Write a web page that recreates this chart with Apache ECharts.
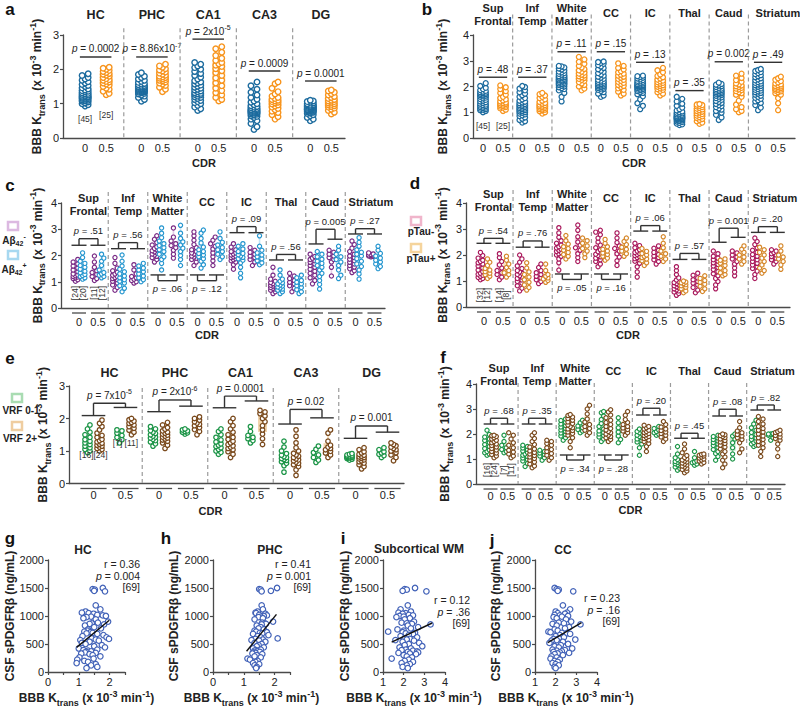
<!DOCTYPE html>
<html>
<head>
<meta charset="utf-8">
<title>BBB Ktrans by CDR</title>
<script src="https://cdn.jsdelivr.net/npm/echarts@6.0.0/dist/echarts.min.js"></script>
<style>
  html, body { margin: 0; padding: 0; background: #fff; }
  #chart { width: 800px; height: 706px; }
</style>
</head>
<body>
<div id="chart"></div>
<script>
// ---------------- data ----------------
const hippoRegions = ['HC', 'PHC', 'CA1', 'CA3', 'DG'];
const cortRegions = [['Sup', 'Frontal'], ['Inf', 'Temp'], ['White', 'Matter'], ['CC'], ['IC'], ['Thal'], ['Caud'], ['Striatum']];

// a: hippocampal Ktrans, CDR 0 / CDR 0.5
const aCdr0 = [
  [0.93,0.97,1.00,1.02,1.05,1.07,1.08,1.10,1.11,1.13,1.14,1.15,1.16,1.18,1.19,1.20,1.21,1.22,1.24,1.25,1.27,1.28,1.30,1.32,1.34,1.36,1.38,1.40,1.43,1.46,1.50,1.53,1.56,1.60,1.64,1.68,1.72,1.76,1.82,1.87],
  [1.07,1.12,1.18,1.22,1.25,1.28,1.30,1.32,1.33,1.34,1.35,1.36,1.37,1.38,1.39,1.40,1.41,1.42,1.43,1.43,1.44,1.45,1.46,1.47,1.48,1.49,1.50,1.51,1.53,1.55,1.57,1.59,1.62,1.65,1.68,1.72,1.76,1.80,1.85,1.90],
  [0.80,0.85,0.90,0.95,1.00,1.03,1.06,1.09,1.12,1.15,1.18,1.20,1.22,1.25,1.27,1.28,1.30,1.32,1.35,1.37,1.40,1.42,1.45,1.48,1.51,1.54,1.57,1.60,1.63,1.67,1.72,1.77,1.82,1.88,1.94,2.00,2.05,2.10,2.15,2.20],
  [0.25,0.33,0.42,0.50,0.55,0.60,0.63,0.65,0.67,0.69,0.70,0.72,0.73,0.74,0.75,0.76,0.77,0.78,0.79,0.80,0.81,0.82,0.83,0.85,0.86,0.88,0.90,0.92,0.94,0.97,1.00,1.04,1.08,1.13,1.18,1.25,1.33,1.42,1.52,1.63],
  [0.50,0.55,0.60,0.65,0.68,0.71,0.73,0.75,0.76,0.77,0.78,0.79,0.79,0.80,0.81,0.82,0.83,0.83,0.84,0.85,0.86,0.87,0.87,0.88,0.89,0.90,0.91,0.92,0.93,0.94,0.95,0.96,0.97,0.98,1.00,1.02,1.04,1.06,1.08,1.10]
];
const aCdr05 = [
  [1.26,1.30,1.36,1.42,1.45,1.50,1.54,1.57,1.60,1.63,1.65,1.68,1.70,1.73,1.76,1.80,1.83,1.86,1.88,1.91,1.94,1.97,2.00,2.03,2.06],
  [1.35,1.42,1.48,1.53,1.57,1.60,1.63,1.66,1.68,1.70,1.72,1.74,1.76,1.78,1.80,1.83,1.86,1.89,1.92,1.95,1.98,2.02,2.06,2.10,2.15],
  [1.08,1.12,1.18,1.25,1.32,1.38,1.45,1.52,1.60,1.68,1.75,1.82,1.90,1.96,2.02,2.08,2.12,2.16,2.20,2.26,2.32,2.40,2.50,2.60,2.66],
  [0.55,0.62,0.68,0.74,0.78,0.82,0.86,0.90,0.93,0.96,0.99,1.02,1.04,1.06,1.08,1.10,1.12,1.15,1.18,1.22,1.28,1.35,1.45,1.58,1.63],
  [0.70,0.75,0.80,0.84,0.87,0.90,0.92,0.94,0.96,0.98,1.00,1.02,1.04,1.06,1.08,1.10,1.12,1.15,1.18,1.21,1.25,1.29,1.33,1.37,1.40]
];
const aPValues = ['0.0002', '8.86x10^-7', '2x10^-5', '0.0009', '0.0001'];
const aCounts = ['[45]', '[25]'];

// b: cortical / subcortical Ktrans, CDR 0 / CDR 0.5
const bCdr0 = [
  [1.00,1.05,1.08,1.10,1.12,1.14,1.16,1.18,1.20,1.22,1.24,1.26,1.28,1.30,1.33,1.36,1.39,1.42,1.45,1.48,1.51,1.54,1.57,1.60,1.62,1.64,1.66,1.68,1.70,1.72,1.74,1.76,1.78,1.80,1.83,1.86,1.90,1.95,2.02,2.13],
  [0.60,0.65,0.70,0.75,0.80,0.85,0.88,0.92,0.95,0.98,1.00,1.03,1.05,1.08,1.10,1.12,1.14,1.16,1.18,1.20,1.22,1.24,1.26,1.28,1.30,1.32,1.35,1.38,1.41,1.45,1.50,1.55,1.60,1.66,1.72,1.78,1.85,1.92,1.98,2.02],
  [1.42,1.60,1.75,1.85,1.90,1.94,1.97,2.00,2.03,2.06,2.08,2.10,2.12,2.14,2.16,2.18,2.20,2.22,2.24,2.25,2.26,2.28,2.30,2.32,2.34,2.36,2.38,2.40,2.43,2.46,2.49,2.52,2.55,2.58,2.62,2.66,2.70,2.74,2.78,2.80],
  [1.60,1.65,1.72,1.78,1.83,1.87,1.90,1.92,1.94,1.96,1.98,2.00,2.02,2.04,2.06,2.08,2.10,2.12,2.14,2.16,2.18,2.20,2.23,2.26,2.30,2.34,2.38,2.42,2.47,2.52,2.57,2.62,2.67,2.72,2.78,2.83,2.88,2.92,2.95,2.97],
  [1.12,1.25,1.35,1.50,1.62,1.70,1.75,1.79,1.82,1.84,1.86,1.88,1.90,1.92,1.94,1.96,1.98,1.99,2.00,2.01,2.02,2.03,2.04,2.05,2.06,2.08,2.10,2.12,2.14,2.16,2.18,2.20,2.22,2.25,2.28,2.31,2.34,2.37,2.40,2.42],
  [0.50,0.53,0.56,0.59,0.62,0.64,0.66,0.68,0.70,0.72,0.73,0.74,0.75,0.76,0.77,0.78,0.79,0.80,0.81,0.82,0.83,0.84,0.85,0.86,0.88,0.90,0.92,0.94,0.96,0.98,1.00,1.03,1.07,1.12,1.18,1.25,1.33,1.42,1.52,1.60],
  [0.70,0.80,0.90,0.98,1.05,1.10,1.15,1.20,1.24,1.28,1.32,1.36,1.40,1.44,1.48,1.52,1.55,1.58,1.61,1.64,1.67,1.70,1.72,1.74,1.76,1.78,1.80,1.82,1.84,1.86,1.88,1.90,1.92,1.95,1.98,2.01,2.04,2.07,2.10,2.15],
  [1.08,1.18,1.28,1.36,1.42,1.47,1.52,1.56,1.60,1.64,1.68,1.72,1.75,1.78,1.81,1.84,1.87,1.90,1.93,1.96,1.99,2.02,2.05,2.08,2.11,2.14,2.17,2.20,2.24,2.28,2.32,2.36,2.40,2.44,2.48,2.52,2.56,2.60,2.64,2.68]
];
const bCdr05 = [
  [1.05,1.10,1.15,1.18,1.20,1.22,1.24,1.26,1.28,1.30,1.32,1.34,1.36,1.38,1.42,1.46,1.50,1.55,1.60,1.68,1.75,1.82,1.90,1.97,2.04],
  [0.95,1.00,1.04,1.08,1.10,1.12,1.14,1.16,1.18,1.20,1.22,1.24,1.26,1.28,1.30,1.33,1.36,1.40,1.45,1.50,1.55,1.60,1.65,1.70,1.75],
  [1.85,1.92,2.00,2.06,2.12,2.17,2.22,2.26,2.30,2.33,2.36,2.40,2.43,2.46,2.50,2.54,2.58,2.63,2.68,2.74,2.80,2.88,2.96,3.05,3.15],
  [1.65,1.72,1.80,1.87,1.93,1.98,2.02,2.06,2.10,2.14,2.18,2.22,2.26,2.30,2.34,2.38,2.42,2.46,2.50,2.55,2.60,2.66,2.72,2.80,2.90],
  [1.65,1.72,1.78,1.83,1.87,1.90,1.93,1.96,1.99,2.02,2.05,2.08,2.11,2.14,2.17,2.20,2.23,2.27,2.31,2.36,2.41,2.47,2.55,2.63,2.72],
  [0.55,0.60,0.65,0.70,0.74,0.78,0.81,0.84,0.87,0.90,0.93,0.96,0.99,1.02,1.05,1.08,1.11,1.14,1.17,1.20,1.23,1.25,1.28,1.30,1.32],
  [1.00,1.05,1.12,1.20,1.30,1.45,1.60,1.68,1.74,1.78,1.82,1.86,1.89,1.92,1.95,1.98,2.01,2.04,2.08,2.12,2.18,2.25,2.33,2.42,2.50],
  [1.08,1.35,1.55,1.68,1.74,1.78,1.81,1.84,1.86,1.88,1.90,1.92,1.94,1.96,1.98,2.00,2.02,2.05,2.08,2.12,2.16,2.21,2.26,2.32,2.38]
];
const bPValues = ['.48', '.37', '.11', '.15', '.13', '.35', '0.002', '.49'];
const bCounts = ['[45]', '[25]'];

// c: amyloid status (Abeta42- / Abeta42+) within CDR 0 and CDR 0.5
const cAbNeg0 = [
  [1.02,1.08,1.12,1.15,1.18,1.20,1.23,1.26,1.30,1.38,1.45,1.52,1.60,1.68,1.75,1.85],
  [0.68,0.78,0.88,0.95,1.02,1.08,1.12,1.16,1.20,1.25,1.30,1.36,1.42,1.52,1.70,1.92],
  [1.75,1.85,1.92,1.97,2.02,2.06,2.10,2.14,2.18,2.22,2.27,2.33,2.40,2.50,2.62,2.75],
  [1.62,1.75,1.85,1.90,1.94,1.98,2.02,2.06,2.10,2.15,2.22,2.30,2.42,2.58,2.75,2.90],
  [1.48,1.65,1.75,1.80,1.84,1.88,1.92,1.95,1.98,2.02,2.06,2.10,2.15,2.22,2.32,2.45],
  [0.55,0.62,0.68,0.72,0.75,0.78,0.81,0.84,0.87,0.90,0.93,0.97,1.02,1.10,1.25,1.55],
  [0.92,1.05,1.15,1.25,1.32,1.40,1.48,1.55,1.62,1.68,1.74,1.80,1.85,1.90,1.96,2.05],
  [1.35,1.42,1.50,1.56,1.62,1.68,1.74,1.80,1.86,1.92,1.98,2.05,2.15,2.28,2.42,2.55]
];
const cAbPos0 = [
  [1.10,1.15,1.20,1.24,1.28,1.34,1.40,1.48,1.55,1.62,1.70,1.78,1.92,2.10],
  [0.62,0.75,0.85,0.95,1.02,1.08,1.15,1.22,1.30,1.38,1.48,1.60,1.78,2.02],
  [1.45,1.70,1.85,1.95,2.05,2.15,2.22,2.30,2.38,2.45,2.55,2.68,2.85,3.05],
  [1.52,1.65,1.78,1.88,1.95,2.02,2.08,2.15,2.22,2.32,2.48,2.65,2.85,2.97],
  [1.15,1.32,1.55,1.72,1.82,1.88,1.93,1.98,2.03,2.08,2.15,2.25,2.35,2.45],
  [0.55,0.62,0.68,0.72,0.76,0.80,0.84,0.88,0.92,0.96,1.02,1.10,1.25,1.45],
  [0.72,0.90,1.05,1.20,1.32,1.45,1.55,1.62,1.70,1.78,1.86,1.95,2.05,2.15],
  [1.10,1.30,1.45,1.58,1.68,1.78,1.88,1.98,2.05,2.12,2.22,2.35,2.50,2.68]
];
const cAbNeg05 = [
  [1.05,1.12,1.20,1.28,1.35,1.42,1.55,1.75,1.98],
  [0.95,1.00,1.05,1.10,1.15,1.20,1.30,1.45,1.65],
  [1.90,2.05,2.20,2.30,2.38,2.45,2.55,2.70,3.05],
  [1.62,1.80,1.95,2.10,2.25,2.35,2.45,2.58,2.70],
  [1.62,1.75,1.85,1.92,1.98,2.05,2.12,2.20,2.30],
  [0.62,0.75,0.85,0.92,0.98,1.05,1.12,1.22,1.32],
  [1.22,1.55,1.75,1.85,1.92,1.98,2.05,2.12,2.20],
  [1.95,1.97,1.98,2.00,2.01,2.02,2.04,2.06,2.10]
];
const cAbPos05 = [
  [1.15,1.20,1.25,1.30,1.35,1.45,1.62,1.78,1.90,2.05],
  [1.00,1.08,1.15,1.22,1.30,1.38,1.45,1.52,1.60,1.70],
  [1.62,1.85,2.00,2.15,2.28,2.40,2.52,2.65,2.85,3.15],
  [1.85,1.95,2.05,2.15,2.22,2.30,2.40,2.50,2.65,2.90],
  [1.65,1.72,1.80,1.88,1.95,2.02,2.10,2.20,2.35,2.75],
  [0.55,0.62,0.70,0.78,0.85,0.92,0.98,1.05,1.15,1.25],
  [1.12,1.25,1.45,1.62,1.75,1.85,1.95,2.05,2.20,2.35],
  [1.50,1.58,1.68,1.75,1.82,1.90,1.98,2.08,2.20,2.35]
];
const cPValues = ['.51', '.56', '.06', '.12', '.09', '.56', '0.005', '.27'];
const cCounts = ['[24]', '[20]', '[11]', '[12]'];

// d: tau status (pTau- / pTau+) within CDR 0 and CDR 0.5
const dTauNeg0 = [
  [1.05,1.10,1.14,1.18,1.22,1.26,1.30,1.36,1.42,1.50,1.58,1.65,1.70,1.75,1.80,1.88,1.98,2.10],
  [0.62,0.72,0.82,0.92,0.98,1.04,1.10,1.15,1.20,1.25,1.30,1.35,1.40,1.48,1.58,1.72,1.85,2.00],
  [1.42,1.70,1.85,1.95,2.00,2.05,2.10,2.14,2.18,2.22,2.27,2.32,2.38,2.45,2.55,2.68,2.85,3.05],
  [1.55,1.65,1.75,1.82,1.88,1.93,1.98,2.03,2.08,2.13,2.20,2.28,2.38,2.50,2.65,2.78,2.88,2.95],
  [1.15,1.35,1.55,1.68,1.76,1.82,1.86,1.90,1.94,1.98,2.02,2.06,2.10,2.15,2.20,2.28,2.36,2.45],
  [0.45,0.52,0.58,0.62,0.66,0.70,0.74,0.78,0.82,0.86,0.90,0.94,0.98,1.04,1.12,1.25,1.40,1.55],
  [0.70,0.85,0.98,1.10,1.20,1.28,1.36,1.44,1.52,1.58,1.64,1.70,1.76,1.82,1.88,1.95,2.05,2.15],
  [1.10,1.25,1.38,1.48,1.55,1.62,1.68,1.75,1.82,1.88,1.95,2.02,2.10,2.18,2.28,2.40,2.52,2.65]
];
const dTauPos0 = [
  [1.10,1.18,1.24,1.30,1.36,1.42,1.48,1.60,1.72,1.85],
  [0.65,0.75,0.85,0.95,1.05,1.15,1.25,1.35,1.50,1.70],
  [1.85,1.95,2.02,2.10,2.18,2.25,2.32,2.42,2.55,2.75],
  [1.80,1.88,1.95,2.02,2.08,2.15,2.22,2.32,2.45,2.60],
  [1.60,1.70,1.78,1.85,1.90,1.95,2.00,2.06,2.14,2.25],
  [0.55,0.62,0.70,0.76,0.82,0.86,0.90,0.93,0.96,1.00],
  [1.20,1.25,1.32,1.40,1.50,1.60,1.68,1.74,1.80,1.85],
  [1.30,1.40,1.50,1.62,1.75,1.88,2.00,2.10,2.20,2.30]
];
const dTauNeg05 = [
  [1.05,1.15,1.25,1.32,1.40,1.50,1.62,1.75,1.90,2.05],
  [0.90,0.98,1.05,1.12,1.18,1.25,1.32,1.40,1.52,1.65],
  [1.75,1.90,2.05,2.18,2.28,2.38,2.50,2.70,2.95,3.15],
  [1.60,1.78,1.92,2.05,2.15,2.25,2.35,2.48,2.65,2.85],
  [1.65,1.75,1.82,1.90,1.96,2.02,2.10,2.18,2.26,2.35],
  [0.55,0.65,0.75,0.85,0.92,0.98,1.05,1.12,1.22,1.30],
  [1.20,1.35,1.50,1.65,1.75,1.85,1.92,2.00,2.08,2.15],
  [1.65,1.75,1.82,1.88,1.94,2.00,2.05,2.10,2.15,2.20]
];
const dTauPos05 = [
  [1.15,1.25,1.32,1.40,1.52,1.65,1.80,1.95],
  [0.95,1.02,1.08,1.12,1.18,1.25,1.40,1.65],
  [1.90,2.05,2.15,2.25,2.35,2.45,2.55,2.65],
  [1.95,2.05,2.15,2.22,2.30,2.40,2.52,2.65],
  [1.75,1.85,1.95,2.05,2.15,2.28,2.45,2.70],
  [0.60,0.70,0.80,0.88,0.95,1.02,1.10,1.20],
  [1.65,1.75,1.85,1.92,2.00,2.10,2.22,2.35],
  [1.45,1.62,1.75,1.85,1.92,2.00,2.15,2.35]
];
const dPValues = ['.54', '.76', '.05', '.16', '.06', '.57', '0.001', '.20'];
const dCounts = ['[32]', '[12]', '[14]', '[8]'];

// e: vascular risk factors (VRF 0-1 / VRF 2+), hippocampal regions
const eVrfLow0 = [
  [0.95,1.00,1.05,1.10,1.15,1.20,1.25,1.30,1.35,1.42,1.50,1.58,1.68,1.80],
  [1.15,1.22,1.28,1.32,1.36,1.40,1.43,1.46,1.50,1.54,1.58,1.63,1.68,1.75],
  [0.90,0.96,1.00,1.05,1.10,1.14,1.18,1.22,1.28,1.34,1.42,1.50,1.60,1.68],
  [0.35,0.55,0.62,0.67,0.71,0.74,0.77,0.80,0.83,0.87,0.92,1.00,1.12,1.30],
  [0.72,0.75,0.77,0.79,0.80,0.81,0.82,0.83,0.84,0.85,0.86,0.88,0.90,0.92]
];
const eVrfHigh0 = [
  [1.00,1.05,1.08,1.12,1.15,1.18,1.21,1.24,1.28,1.32,1.36,1.42,1.48,1.55,1.65,1.75,1.85,1.95],
  [1.08,1.18,1.25,1.30,1.34,1.37,1.40,1.43,1.46,1.49,1.52,1.55,1.58,1.62,1.67,1.72,1.80,1.88],
  [0.80,0.90,0.98,1.04,1.08,1.12,1.16,1.20,1.25,1.30,1.36,1.42,1.50,1.58,1.68,1.78,1.90,2.00],
  [0.25,0.42,0.52,0.58,0.62,0.66,0.70,0.73,0.76,0.80,0.84,0.88,0.93,1.00,1.10,1.25,1.45,1.65],
  [0.45,0.52,0.58,0.63,0.67,0.70,0.73,0.76,0.78,0.80,0.82,0.84,0.87,0.90,0.94,0.98,1.04,1.10]
];
const eVrfLow05 = [
  [1.25,1.35,1.42,1.48,1.55,1.62,1.65],
  [1.52,1.56,1.58,1.60,1.62,1.65,1.68],
  [1.25,1.32,1.38,1.42,1.48,1.60,1.75],
  [0.65,0.72,0.80,0.88,0.95,1.05,1.15],
  [0.80,0.86,0.90,0.94,0.98,1.04,1.10]
];
const eVrfHigh05 = [
  [1.50,1.58,1.64,1.70,1.75,1.80,1.85,1.88,1.92,1.96,2.00],
  [1.50,1.60,1.66,1.72,1.78,1.82,1.86,1.90,1.95,2.00,2.05],
  [1.20,1.38,1.52,1.65,1.78,1.90,2.00,2.08,2.15,2.20,2.25],
  [0.80,0.88,0.94,0.99,1.04,1.08,1.12,1.18,1.30,1.55,1.65],
  [0.70,0.80,0.88,0.95,1.00,1.04,1.08,1.12,1.16,1.20,1.25]
];
const ePValues = ['7x10^-5', '2x10^-6', '0.0001', '0.02', '0.001'];
const eCounts = ['[16][24]', '[7] [11]'];

// f: vascular risk factors, cortical / subcortical regions
const fVrfLow0 = [
  [1.15,1.20,1.25,1.30,1.36,1.42,1.50,1.58,1.66,1.74,1.80,1.88,1.98,2.15],
  [0.70,0.82,0.92,0.98,1.04,1.10,1.15,1.20,1.26,1.32,1.38,1.44,1.50,1.55],
  [1.75,1.85,1.92,1.98,2.04,2.10,2.16,2.22,2.28,2.34,2.40,2.47,2.54,2.60],
  [1.70,1.80,1.88,1.94,2.00,2.06,2.12,2.20,2.30,2.42,2.58,2.72,2.85,2.90],
  [1.15,1.45,1.60,1.68,1.74,1.80,1.85,1.90,1.95,2.00,2.05,2.10,2.15,2.20],
  [0.55,0.62,0.68,0.73,0.77,0.81,0.84,0.87,0.90,0.94,0.98,1.05,1.20,1.50],
  [0.95,1.10,1.22,1.30,1.38,1.46,1.54,1.60,1.66,1.72,1.78,1.84,1.90,1.95],
  [1.50,1.55,1.60,1.66,1.72,1.78,1.84,1.90,1.98,2.06,2.15,2.25,2.40,2.55]
];
const fVrfHigh0 = [
  [1.05,1.12,1.18,1.24,1.30,1.36,1.42,1.48,1.54,1.60,1.65,1.70,1.75,1.80,1.85,1.90,1.93,1.95],
  [0.65,0.72,0.80,0.88,0.95,1.02,1.08,1.14,1.20,1.26,1.32,1.40,1.48,1.58,1.70,1.82,1.95,2.05],
  [1.45,1.70,1.85,1.95,2.02,2.08,2.14,2.20,2.25,2.30,2.36,2.42,2.48,2.55,2.62,2.68,2.74,2.78],
  [1.70,1.78,1.85,1.90,1.95,2.00,2.05,2.10,2.16,2.22,2.30,2.38,2.46,2.55,2.65,2.76,2.88,2.97],
  [1.30,1.50,1.62,1.70,1.76,1.82,1.86,1.90,1.94,1.98,2.02,2.06,2.10,2.15,2.20,2.25,2.30,2.35],
  [0.45,0.52,0.58,0.63,0.68,0.72,0.76,0.80,0.84,0.88,0.92,0.96,1.00,1.06,1.14,1.25,1.40,1.60],
  [0.65,0.80,0.95,1.08,1.20,1.30,1.40,1.48,1.55,1.62,1.68,1.74,1.80,1.86,1.90,1.94,1.97,2.00],
  [1.10,1.30,1.45,1.55,1.62,1.70,1.78,1.85,1.92,2.00,2.08,2.15,2.22,2.30,2.40,2.50,2.60,2.70]
];
const fVrfLow05 = [
  [1.25,1.30,1.38,1.45,1.55,1.70,1.95],
  [0.95,1.05,1.12,1.18,1.24,1.30,1.35],
  [2.05,2.12,2.18,2.25,2.32,2.45,2.55],
  [1.65,1.78,1.92,2.08,2.25,2.45,2.65],
  [1.95,2.00,2.05,2.10,2.16,2.22,2.30],
  [0.75,0.80,0.85,0.88,0.92,1.05,1.30],
  [1.00,1.20,1.45,1.65,1.80,1.92,2.00],
  [1.75,1.85,1.95,1.98,2.00,2.00,2.02]
];
const fVrfHigh05 = [
  [1.05,1.12,1.20,1.28,1.35,1.45,1.55,1.65,1.80,1.95,2.05],
  [0.95,1.05,1.15,1.22,1.30,1.38,1.45,1.55,1.62,1.70,1.75],
  [1.95,2.05,2.15,2.22,2.30,2.38,2.48,2.60,2.80,3.00,3.15],
  [1.95,2.05,2.12,2.18,2.24,2.30,2.38,2.46,2.58,2.75,2.90],
  [1.70,1.80,1.88,1.95,2.02,2.08,2.14,2.20,2.28,2.38,2.50],
  [0.80,0.86,0.92,0.96,1.00,1.04,1.08,1.12,1.15,1.18,1.20],
  [1.25,1.40,1.65,1.78,1.85,1.92,1.98,2.05,2.12,2.25,2.50],
  [1.10,1.40,1.60,1.75,1.82,1.88,1.94,2.00,2.06,2.10,2.15]
];
const fPValues = ['.68', '.35', '.34', '.28', '.20', '.45', '.08', '.82'];
const fCounts = ['[16]', '[24]', '[7]', '[11]'];

// g-j: CSF sPDGFRb (same 69 subjects) vs regional Ktrans
const csfPdgfrb = [1500,1480,1470,1450,1440,1190,1120,1080,1060,1050,1040,1020,1010,1000,990,980,960,940,900,880,870,860,850,830,800,780,760,740,720,710,700,690,680,660,640,620,600,590,580,570,560,540,520,500,480,460,440,420,400,390,380,370,360,350,340,330,320,300,280,260,240,220,200,180,160,140,120,90,70];
const ktransHC = [1.78,1.45,1.52,1.50,1.85,1.55,1.70,1.22,1.10,1.32,1.48,1.60,1.78,1.88,1.40,1.25,1.15,1.55,1.95,1.62,1.42,1.35,1.82,1.20,1.50,1.72,1.30,1.28,1.18,1.38,1.45,1.25,1.60,1.80,1.12,1.90,1.42,1.98,1.55,1.05,1.65,1.35,1.10,1.22,1.75,1.50,1.85,1.00,1.60,1.15,1.30,1.40,1.25,1.20,1.55,1.08,1.35,1.45,1.70,1.02,1.48,0.95,1.18,1.30,0.93,1.55,1.40,1.60,1.25];
const ktransPHC = [2.08,1.50,1.55,1.88,1.58,1.58,1.62,1.45,1.38,1.40,1.70,1.50,1.75,1.65,1.55,1.48,1.62,1.35,1.95,1.60,1.68,1.72,1.58,1.42,1.55,1.48,1.65,1.35,1.40,1.75,1.52,1.60,1.30,1.80,1.45,1.55,2.10,1.38,1.62,1.25,1.50,1.70,1.35,1.58,1.48,1.42,1.65,1.30,1.55,1.40,1.35,1.45,1.52,1.32,1.38,1.28,1.60,1.42,1.35,1.55,1.12,1.20,1.45,1.38,1.30,1.50,1.35,1.42,1.40];
const ktransWM = [2.55,2.05,2.15,1.95,3.10,2.20,1.85,2.35,1.75,2.10,1.95,2.25,2.45,1.80,2.00,1.65,2.30,2.05,2.50,1.90,2.15,2.40,3.30,2.20,2.70,2.35,1.70,2.00,1.25,1.95,2.55,2.10,2.45,2.25,1.85,2.65,2.05,2.30,2.15,1.60,2.50,1.95,2.75,2.25,2.05,2.90,1.80,2.35,2.10,1.90,2.45,2.65,2.20,2.70,1.75,2.30,2.60,2.00,2.15,2.40,1.42,2.25,2.05,2.45,1.90,2.30,2.15,1.95,2.20];
const ktransCC = [1.95,2.05,2.15,2.10,2.85,2.35,2.70,2.00,2.55,2.10,2.45,1.95,2.20,2.60,2.30,1.90,2.05,2.50,2.75,2.15,2.40,1.85,3.20,2.05,2.65,2.45,1.95,2.10,1.65,1.75,2.30,2.55,2.70,2.20,2.00,2.40,2.15,1.90,2.95,2.05,1.80,2.35,1.70,2.60,2.25,1.95,2.15,2.80,1.85,2.45,2.05,2.30,1.90,2.20,2.65,2.10,1.95,2.35,1.80,2.05,1.75,2.20,1.95,2.10,1.85,2.00,2.15,1.95,2.00];
// fitted regression lines: [Ktrans, sPDGFRb]
const fitHC = [[0.93, 440], [1.99, 925]];
const fitPHC = [[1.09, 370], [2.06, 1030]];
const fitWM = [[1.42, 535], [3.38, 875]];
const fitCC = [[1.62, 525], [3.25, 880]];
const corrStats = [['0.36', '0.004'], ['0.41', '0.001'], ['0.12', '.36'], ['0.23', '.16']];

// ---------------- styling ----------------
const FONT = "'Liberation Sans', Arial, Helvetica, sans-serif";
const INK = '#222';
const AXIS = '#4a4a4a';
const BLUE = '#1c6b9e', BLUE_L = '#b9d5ea';
const ORANGE = '#f7941d', ORANGE_L = '#fdd9aa';
const PURPLE = '#7a2c86', PURPLE_L = '#e3cbe7';
const CYAN = '#2596cf', CYAN_L = '#c2e3f4';
const CRIMSON = '#a9195c', CRIMSON_L = '#f4c9d9';
const OCHRE = '#d5872a', OCHRE_L = '#f9e1b6';
const GREEN = '#1d9548', GREEN_L = '#c5e8cb';
const BROWN = '#7a4a1d', BROWN_L = '#f1d5ae';
const SCAT = '#4262b8';

const KT_NAME = '{b|BBB K}{s|trans}{b| (x 10}{u|-3}{b| min}{u|-1}{b|)}';
function ktRich(fs) {
  const base = {fontFamily: FONT, fontWeight: 'bold', color: INK};
  const small = Math.round(fs * 0.72);
  return {
    b: Object.assign({fontSize: fs, lineHeight: fs + 6}, base),
    s: Object.assign({fontSize: small, lineHeight: small + 1, verticalAlign: 'bottom'}, base),
    u: Object.assign({fontSize: small, lineHeight: small + 1, verticalAlign: 'top'}, base)
  };
}
function pRich(fs) {
  const small = Math.round(fs * 0.72);
  return {
    i: {fontStyle: 'italic', fontSize: fs, fontFamily: FONT, fill: INK},
    sup: {fontSize: small, fontFamily: FONT, fill: INK, verticalAlign: 'top', lineHeight: small + 1}
  };
}
function pText(s) {
  return '{i|p} = ' + s.replace(/\^(.+)$/, '{sup|$1}');
}

const grid = [], xAxis = [], yAxis = [], series = [], graphic = [];

function stats(arr) {
  const s = arr.slice().sort((a, b) => a - b);
  const q = p => {
    const i = (s.length - 1) * p, lo = Math.floor(i), hi = Math.ceil(i);
    return s[lo] + (s[hi] - s[lo]) * (i - lo);
  };
  return [s[0], q(0.25), q(0.5), q(0.75), s[s.length - 1]];
}

// deterministic beeswarm offsets so dots do not stack exactly
function swarm(values, cx, pxX, pxY, d, spread) {
  const step = d * 0.55;
  const offs = [0];
  for (let k = 1; k * step <= spread + 0.01; k++) offs.push(k * step, -k * step);
  const placed = [], out = [];
  values.slice().sort((a, b) => a - b).forEach(v => {
    const yp = v * pxY;
    let best = 0, bestD = -1;
    for (const o of offs) {
      let md = Infinity;
      for (const q of placed) {
        if (Math.abs(q[1] - yp) < d) md = Math.min(md, Math.hypot(q[0] - o, q[1] - yp));
      }
      if (md >= d * 0.9) { best = o; break; }
      if (md > bestD) { bestD = md; best = o; }
    }
    placed.push([best, yp]);
    out.push([cx + best / pxX, v]);
  });
  return out;
}

function drawAnno(a, api, p) {
  const fs = p.annoFs;
  const line = (x1, y1, x2, y2, st) => ({type: 'line', shape: {x1, y1, x2, y2}, style: Object.assign({stroke: '#333', lineWidth: 1.4}, st)});
  const text = (x, y, s, st, rot) => {
    const style = Object.assign({text: s, fontFamily: FONT, fontSize: fs, fill: INK, align: 'center', verticalAlign: 'middle', lineHeight: fs + 4}, st);
    if (s.indexOf('{') >= 0) style.rich = pRich(style.fontSize);
    return {type: 'text', x, y, rotation: rot || 0, style};
  };
  if (a.t === 'dash') {
    const t = api.coord([a.x, a.y1]), b = api.coord([a.x, 0]);
    return line(t[0], t[1], b[0], b[1], {stroke: '#9b9b9b', lineWidth: 1.2, lineDash: [4, 3]});
  }
  if (a.t === 'title') {
    const c = api.coord([a.x, a.y]);
    return text(c[0], c[1], a.text, {fontSize: p.titleFs, fontWeight: 'bold', lineHeight: p.titleFs + 2});
  }
  if (a.t === 'bar') {
    const l = api.coord([a.x1, a.y]), r = api.coord([a.x2, a.y]);
    return {type: 'group', children: [line(l[0], l[1], r[0], r[1]), text((l[0] + r[0]) / 2, l[1] - 8, a.text)]};
  }
  if (a.t === 'bracket') {
    const L = api.coord([a.xl, a.yl]), R = api.coord([a.xr, a.yr]);
    const yt = api.coord([a.xl, a.yt])[1];
    const hw = api.size([a.hw, 0])[0];
    const ty = a.yt < a.yl ? yt + 8 : yt - 8;
    return {type: 'group', children: [
      line(L[0] - hw, L[1], L[0] + hw, L[1]), line(R[0] - hw, R[1], R[0] + hw, R[1]),
      line(L[0], L[1], L[0], yt), line(R[0], R[1], R[0], yt), line(L[0], yt, R[0], yt),
      text((L[0] + R[0]) / 2, ty, a.text)
    ]};
  }
  if (a.t === 'n') {
    const c = api.coord([a.x, a.y]);
    return text(c[0], c[1], a.text, {fontSize: 8.5, fill: '#333'}, a.rot ? Math.PI / 2 : 0);
  }
  if (a.t === 'under') {
    const c = api.coord([a.x, 0]);
    const hw = api.size([a.hw, 0])[0];
    return line(c[0] - hw, c[1] + 5, c[0] + hw, c[1] + 5, {stroke: AXIS, lineWidth: 1.3});
  }
  return null;
}

function stripPanel(p) {
  const gi = grid.length;
  grid.push({left: p.left, top: p.top, width: p.width, height: p.height, containLabel: false, outerBoundsMode: 'none'});
  const pxX = p.width / (p.xMax - p.xMin), pxY = p.height / p.yMax;
  const labelOf = v => {
    let best = '', bd = 1e9;
    p.ticks.forEach(t => { const d = Math.abs(t[0] - v); if (d < bd) { bd = d; best = t[1]; } });
    return best;
  };
  xAxis.push({
    type: 'value', gridIndex: gi, min: p.xMin, max: p.xMax,
    splitLine: {show: false}, axisTick: {show: false},
    axisLine: {show: true, onZero: false, lineStyle: {color: AXIS, width: 1.3}},
    axisLabel: {customValues: p.ticks.map(t => t[0]), formatter: labelOf, color: INK, fontSize: 11, fontFamily: FONT, margin: p.tickMargin},
    name: 'CDR', nameLocation: 'middle', nameGap: p.cdrGap,
    nameTextStyle: {fontWeight: 'bold', fontSize: 11, color: INK, fontFamily: FONT, padding: p.cdrPad || 0}
  });
  yAxis.push({
    type: 'value', gridIndex: gi, min: 0, max: p.yMax, interval: 1,
    splitLine: {show: false},
    axisLine: {show: true, onZero: false, lineStyle: {color: AXIS, width: 1.3}},
    axisTick: {show: true, length: 3, lineStyle: {color: AXIS, width: 1.2}},
    axisLabel: {color: INK, fontSize: 11, fontFamily: FONT, margin: 4},
    name: KT_NAME, nameLocation: 'middle', nameGap: p.nameGap,
    nameTextStyle: {rich: ktRich(12)}
  });
  // light boxes (range whisker + interquartile box)
  series.push({
    type: 'custom', xAxisIndex: gi, yAxisIndex: gi, z: 1, silent: true, clip: false,
    data: p.groups.map((g, i) => [g.x].concat(stats(g.values), [i])),
    renderItem: (params, api) => {
      const g = p.groups[api.value(6)];
      const x = api.value(0);
      const lo = api.coord([x, api.value(1)]), hi = api.coord([x, api.value(5)]);
      const q1 = api.coord([x, api.value(2)]), q3 = api.coord([x, api.value(4)]);
      return {type: 'group', children: [
        {type: 'line', shape: {x1: lo[0], y1: lo[1], x2: hi[0], y2: hi[1]}, style: {stroke: g.fill, lineWidth: 1.6}},
        {type: 'rect', shape: {x: q3[0] - p.boxW / 2, y: q3[1], width: p.boxW, height: q1[1] - q3[1]}, style: {fill: g.fill}}
      ]};
    }
  });
  // dots, one series per colour
  const byColor = {};
  p.groups.forEach(g => {
    (byColor[g.color] = byColor[g.color] || []).push(...swarm(g.values, g.x, pxX, pxY, p.dot, p.spread));
  });
  Object.keys(byColor).forEach(c => series.push({
    type: 'scatter', xAxisIndex: gi, yAxisIndex: gi, z: 2, silent: true, progressive: 0,
    symbol: 'circle', symbolSize: p.dot, data: byColor[c],
    itemStyle: {color: '#fff', borderColor: c, borderWidth: p.dotLine, opacity: 1}
  }));
  // separators, titles, p-value brackets, counts
  series.push({
    type: 'custom', xAxisIndex: gi, yAxisIndex: gi, z: 3, silent: true, clip: false,
    data: p.annos.map(() => [p.xMin, 0]),
    renderItem: (params, api) => drawAnno(p.annos[params.dataIndex], api, p)
  });
}

function titleX(L, k, n) {
  return k + (k === n - 1 ? (L.lastShift || 0) : 0);
}

// ---- two-group panels (a, b) ----
function pairPanel(L, regions, set0, set05, pVals, barY, titleY, counts, countY) {
  const groups = [], ticks = [], annos = [];
  regions.forEach((r, k) => {
    groups.push({x: k - L.off, values: set0[k], color: BLUE, fill: BLUE_L});
    groups.push({x: k + L.off, values: set05[k], color: ORANGE, fill: ORANGE_L});
    ticks.push([k - L.off, '0'], [k + L.off, '0.5']);
    annos.push({t: 'title', x: titleX(L, k, regions.length), y: titleY[r.length > 1 ? 0 : 1], text: r.join('\n')});
    if (k > 0) annos.push({t: 'dash', x: k - 0.5, y1: L.dashTop});
    annos.push({t: 'bar', x1: k - L.bar, x2: k + L.bar, y: barY[k], text: pText(pVals[k])});
  });
  annos.push({t: 'n', x: -L.off, y: countY[0], text: counts[0]}, {t: 'n', x: L.off, y: countY[1], text: counts[1]});
  stripPanel(Object.assign({}, L, {groups, ticks, annos}));
}

// ---- four-group panels (c, d, e, f) ----
function quadPanel(L, regions, sets, colors, fills, pVals, brackets, titleY, counts) {
  const groups = [], ticks = [], annos = [];
  const offs = [-L.pair - L.sub, -L.pair + L.sub, L.pair - L.sub, L.pair + L.sub];
  regions.forEach((r, k) => {
    offs.forEach((o, j) => groups.push({x: k + o, values: sets[j][k], color: colors[j], fill: fills[j]}));
    ticks.push([k - L.pair, '0'], [k + L.pair, '0.5']);
    annos.push({t: 'under', x: k - L.pair, hw: L.under}, {t: 'under', x: k + L.pair, hw: L.under});
    annos.push({t: 'title', x: titleX(L, k, regions.length), y: titleY[r.length > 1 ? 0 : 1], text: r.join('\n')});
    if (k > 0) annos.push({t: 'dash', x: k - 0.5, y1: L.dashTop});
    const b = brackets[k];
    annos.push({t: 'bracket', xl: k - L.pair, xr: k + L.pair, hw: L.brHw, yl: b[0], yr: b[1], yt: b[2], text: pText(pVals[k])});
  });
  counts.forEach(c => annos.push(c));
  stripPanel(Object.assign({}, L, {groups, ticks, annos}));
}

const hippoTitles = hippoRegions.map(r => [r]);

// a
pairPanel({left: 63, top: 35, width: 282, height: 103, xMin: -0.58, xMax: 4.43, yMax: 3, off: 0.187, bar: 0.28,
  dashTop: 3.2, nameGap: 17, cdrGap: 19, tickMargin: 4, annoFs: 10, titleFs: 12.5, dot: 5.5, dotLine: 1.4, boxW: 13, spread: 4.5},
  hippoTitles, aCdr0, aCdr05, aPValues, [2.36, 2.36, 2.88, 1.95, 1.66], [3.58, 3.58], aCounts, [0.55, 0.67]);

// b
pairPanel({left: 473, top: 35, width: 322, height: 103, xMin: -0.509, xMax: 7.685, yMax: 4, off: 0.255, bar: 0.36,
  dashTop: 4.8, nameGap: 21, cdrGap: 19, tickMargin: 4, annoFs: 10, titleFs: 11, lastShift: 0.25, dot: 5, dotLine: 1.3, boxW: 12, spread: 4.5},
  cortRegions, bCdr0, bCdr05, bPValues, [2.36, 2.36, 3.35, 3.35, 2.94, 1.84, 2.96, 2.94], [4.8, 4.86], bCounts, [0.48, 0.48]);

function rotCounts(list, L, y) {
  const offs = [-L.pair - L.sub, -L.pair + L.sub, L.pair - L.sub, L.pair + L.sub];
  return list.map((t, j) => ({t: 'n', x: offs[j], y, text: t, rot: true}));
}

// c
const layoutC = {left: 61, top: 203, width: 324, height: 105, xMin: -0.696, xMax: 7.506, yMax: 4, pair: 0.24, sub: 0.09,
  under: 0.177, brHw: 0.19, dashTop: 4.42, nameGap: 10, cdrGap: 21, cdrPad: [0, 32, 0, 0], tickMargin: 8, annoFs: 9.5,
  titleFs: 11, lastShift: 0.15, dot: 4.2, dotLine: 1.2, boxW: 6, spread: 2.4};
quadPanel(layoutC, cortRegions, [cAbNeg0, cAbPos0, cAbNeg05, cAbPos05], [PURPLE, CYAN, PURPLE, CYAN], [PURPLE_L, CYAN_L, PURPLE_L, CYAN_L],
  cPValues, [[2.39, 2.39, 2.64], [2.26, 2.26, 2.49], [1.26, 1.26, 1.04], [1.26, 1.26, 1.04], [2.87, 2.87, 3.1], [1.83, 1.83, 2.04], [2.44, 2.62, 3.0], [2.82, 2.82, 3.02]],
  [3.94, 4.04], rotCounts(cCounts, layoutC, 0.57));

// d
const layoutD = {left: 466, top: 203, width: 324, height: 104, xMin: -0.70, xMax: 7.565, yMax: 4, pair: 0.242, sub: 0.09,
  under: 0.178, brHw: 0.19, dashTop: 4.5, nameGap: 10, cdrGap: 22, tickMargin: 8, annoFs: 9.5,
  titleFs: 11, lastShift: 0.18, dot: 4.2, dotLine: 1.2, boxW: 6, spread: 2.4};
quadPanel(layoutD, cortRegions, [dTauNeg0, dTauPos0, dTauNeg05, dTauPos05], [CRIMSON, OCHRE, CRIMSON, OCHRE], [CRIMSON_L, OCHRE_L, CRIMSON_L, OCHRE_L],
  dPValues, [[2.45, 2.45, 2.64], [2.3, 2.3, 2.54], [1.27, 1.27, 1.06], [1.27, 1.27, 1.06], [2.92, 2.92, 3.13], [1.83, 1.83, 2.06], [2.49, 2.68, 3.03], [2.87, 2.87, 3.09]],
  [4.1, 4.2], rotCounts(dCounts, layoutD, 0.46));

// e
const layoutE = {left: 69, top: 386, width: 335, height: 97.5, xMin: -0.618, xMax: 4.496, yMax: 3, pair: 0.244, sub: 0.092,
  under: 0.2, brHw: 0.18, dashTop: 2.94, nameGap: 17, cdrGap: 22, cdrPad: [0, 52, 0, 0], tickMargin: 6, annoFs: 10,
  titleFs: 12.5, dot: 4.5, dotLine: 1.3, boxW: 9, spread: 3};
quadPanel(layoutE, hippoTitles, [eVrfLow0, eVrfHigh0, eVrfLow05, eVrfHigh05], [GREEN, BROWN, GREEN, BROWN], [GREEN_L, BROWN_L, GREEN_L, BROWN_L],
  ePValues, [[2.09, 2.34, 2.47], [2.21, 2.38, 2.57], [2.33, 2.54, 2.69], [1.83, 2.02, 2.28], [1.39, 1.58, 1.77]],
  [3.4, 3.4], [{t: 'n', x: -0.244, y: 0.88, text: eCounts[0]}, {t: 'n', x: 0.244, y: 1.25, text: eCounts[1]}]);

// f
const layoutF = {left: 476, top: 384, width: 309, height: 100, xMin: -0.604, xMax: 7.506, yMax: 4, pair: 0.223, sub: 0.092,
  under: 0.184, brHw: 0.18, dashTop: 4.04, nameGap: 22, cdrGap: 20, tickMargin: 6, annoFs: 9.5,
  titleFs: 11, lastShift: 0.18, dot: 4.2, dotLine: 1.2, boxW: 6, spread: 2.4};
quadPanel(layoutF, cortRegions, [fVrfLow0, fVrfHigh0, fVrfLow05, fVrfHigh05], [GREEN, BROWN, GREEN, BROWN], [GREEN_L, BROWN_L, GREEN_L, BROWN_L],
  fPValues, [[2.4, 2.4, 2.63], [2.4, 2.4, 2.63], [1.16, 1.16, 0.96], [1.16, 1.16, 0.96], [2.76, 2.76, 3.03], [1.83, 1.83, 2.03], [2.72, 2.72, 2.99], [2.96, 2.96, 3.16]],
  [4.4, 4.52], rotCounts(fCounts, layoutF, 0.56));

// ---- correlation panels (g-j) ----
function corrPanel(q) {
  const gi = grid.length;
  grid.push({left: q.left, top: 560, width: q.width, height: 112, containLabel: false, outerBoundsMode: 'none'});
  xAxis.push({
    type: 'value', gridIndex: gi, min: q.xMin, max: q.xMax, interval: q.xStep, splitLine: {show: false},
    axisLine: {show: true, onZero: false, lineStyle: {color: AXIS, width: 1.3}},
    axisTick: {show: true, length: 3, lineStyle: {color: AXIS, width: 1.2}},
    axisLabel: {color: INK, fontSize: 11, fontFamily: FONT, margin: 4, formatter: v => Number.isInteger(v) ? String(v) : ''},
    name: KT_NAME, nameLocation: 'middle', nameGap: 17, nameTextStyle: {rich: ktRich(12)}
  });
  yAxis.push({
    type: 'value', gridIndex: gi, min: 0, max: 2000, interval: 500, splitLine: {show: false},
    axisLine: {show: true, onZero: false, lineStyle: {color: AXIS, width: 1.3}},
    axisTick: {show: true, length: 3, lineStyle: {color: AXIS, width: 1.2}},
    axisLabel: {color: INK, fontSize: 11, fontFamily: FONT, margin: 4, formatter: v => String(v)},
    name: 'CSF sPDGFRβ (ng/mL)', nameLocation: 'middle', nameGap: q.nameGap,
    nameTextStyle: {fontWeight: 'bold', fontSize: 12, color: INK, fontFamily: FONT}
  });
  series.push({
    type: 'scatter', xAxisIndex: gi, yAxisIndex: gi, silent: true, symbol: 'circle', symbolSize: 5.5,
    data: q.x.map((v, i) => [v, csfPdgfrb[i]]),
    itemStyle: {color: '#fff', borderColor: SCAT, borderWidth: 1.2, opacity: 1}
  });
  series.push({
    type: 'line', xAxisIndex: gi, yAxisIndex: gi, silent: true, z: 4, symbol: 'none', data: q.fit,
    lineStyle: {color: '#111', width: 1.4}
  });
  graphic.push({type: 'text', x: q.titleX, y: q.titleY, style: {text: q.title, fontFamily: FONT, fontSize: 12, fontWeight: 'bold', fill: INK, align: 'center', verticalAlign: 'middle'}});
  const st = q.stats;
  [['r = ' + st[0], 0], ['{i|p} = ' + st[1], 1], ['[69]', 2]].forEach(([t, i]) => {
    const style = {text: t, fontFamily: FONT, fontSize: 10.5, fill: INK, align: 'right', verticalAlign: 'middle'};
    if (t.indexOf('{') >= 0) style.rich = pRich(10.5);
    graphic.push({type: 'text', x: q.statX, y: q.statY + i * 11.5, style});
  });
}
corrPanel({left: 48, width: 77, xMin: 0, xMax: 2.5, xStep: 0.5, x: ktransHC, fit: fitHC, nameGap: 29, title: 'HC', titleX: 83, titleY: 550, stats: corrStats[0], statX: 140, statY: 564});
corrPanel({left: 213, width: 77, xMin: 0, xMax: 2.5, xStep: 0.5, x: ktransPHC, fit: fitPHC, nameGap: 33, title: 'PHC', titleX: 270, titleY: 550, stats: corrStats[1], statX: 311, statY: 564});
corrPanel({left: 383, width: 62, xMin: 1, xMax: 4, xStep: 1, x: ktransWM, fit: fitWM, nameGap: 31, title: 'Subcortical WM', titleX: 419, titleY: 549, stats: corrStats[2], statX: 470, statY: 600});
corrPanel({left: 535, width: 62, xMin: 1, xMax: 4, xStep: 1, x: ktransCC, fit: fitCC, nameGap: 33, title: 'CC', titleX: 563, titleY: 550, stats: corrStats[3], statX: 620, statY: 598});

// ---- panel letters ----
[['a', 10, 9], ['b', 427, 9], ['c', 10, 185], ['d', 415, 183], ['e', 10, 358], ['f', 443, 357],
 ['g', 10, 538], ['h', 166, 538], ['i', 343, 538], ['j', 492, 540]].forEach(([t, x, y]) => {
  graphic.push({type: 'text', x, y, style: {text: t, fontFamily: FONT, fontSize: 17, fontWeight: 'bold', fill: '#111', align: 'center', verticalAlign: 'middle'}});
});

// ---- group keys for c, d, e ----
const legRich = {
  t: {fontSize: 10, fontWeight: 'bold', fontFamily: FONT, fill: INK},
  s: {fontSize: 7, fontWeight: 'bold', fontFamily: FONT, fill: INK, verticalAlign: 'bottom', lineHeight: 8},
  u: {fontSize: 7, fontWeight: 'bold', fontFamily: FONT, fill: INK, verticalAlign: 'top', lineHeight: 8}
};
function keyItem(x, y, stroke, label, tx, ty) {
  graphic.push({type: 'rect', shape: {x: x - 5, y: y - 4, width: 10, height: 8}, style: {fill: '#fff', stroke, lineWidth: 2.5}});
  const style = {text: label, fontFamily: FONT, fontSize: 10, fontWeight: 'bold', fill: INK, align: 'center', verticalAlign: 'middle', lineHeight: 14};
  if (label.indexOf('{') >= 0) style.rich = legRich;
  graphic.push({type: 'text', x: tx, y: ty, style});
}
keyItem(13, 226, '#dcb9e1', '{t|Aβ}{s|42}{u|-}', 14, 240);
keyItem(13, 255, '#a7d8f0', '{t|Aβ}{s|42}{u|+}', 14, 269);
keyItem(416, 221, '#f0b5cb', 'pTau-', 421, 231);
keyItem(416, 248, '#f5d49c', 'pTau+', 421, 258);
keyItem(17, 398, '#a9dcb2', 'VRF 0-1', 21, 410);
keyItem(17, 426, '#efcda0', 'VRF 2+', 20, 438);

const chart = echarts.init(document.getElementById('chart'), null, {renderer: 'svg'});
chart.setOption({
  animation: false,
  backgroundColor: '#fff',
  textStyle: {fontFamily: FONT},
  grid, xAxis, yAxis, series, graphic
});
</script>
</body>
</html>
